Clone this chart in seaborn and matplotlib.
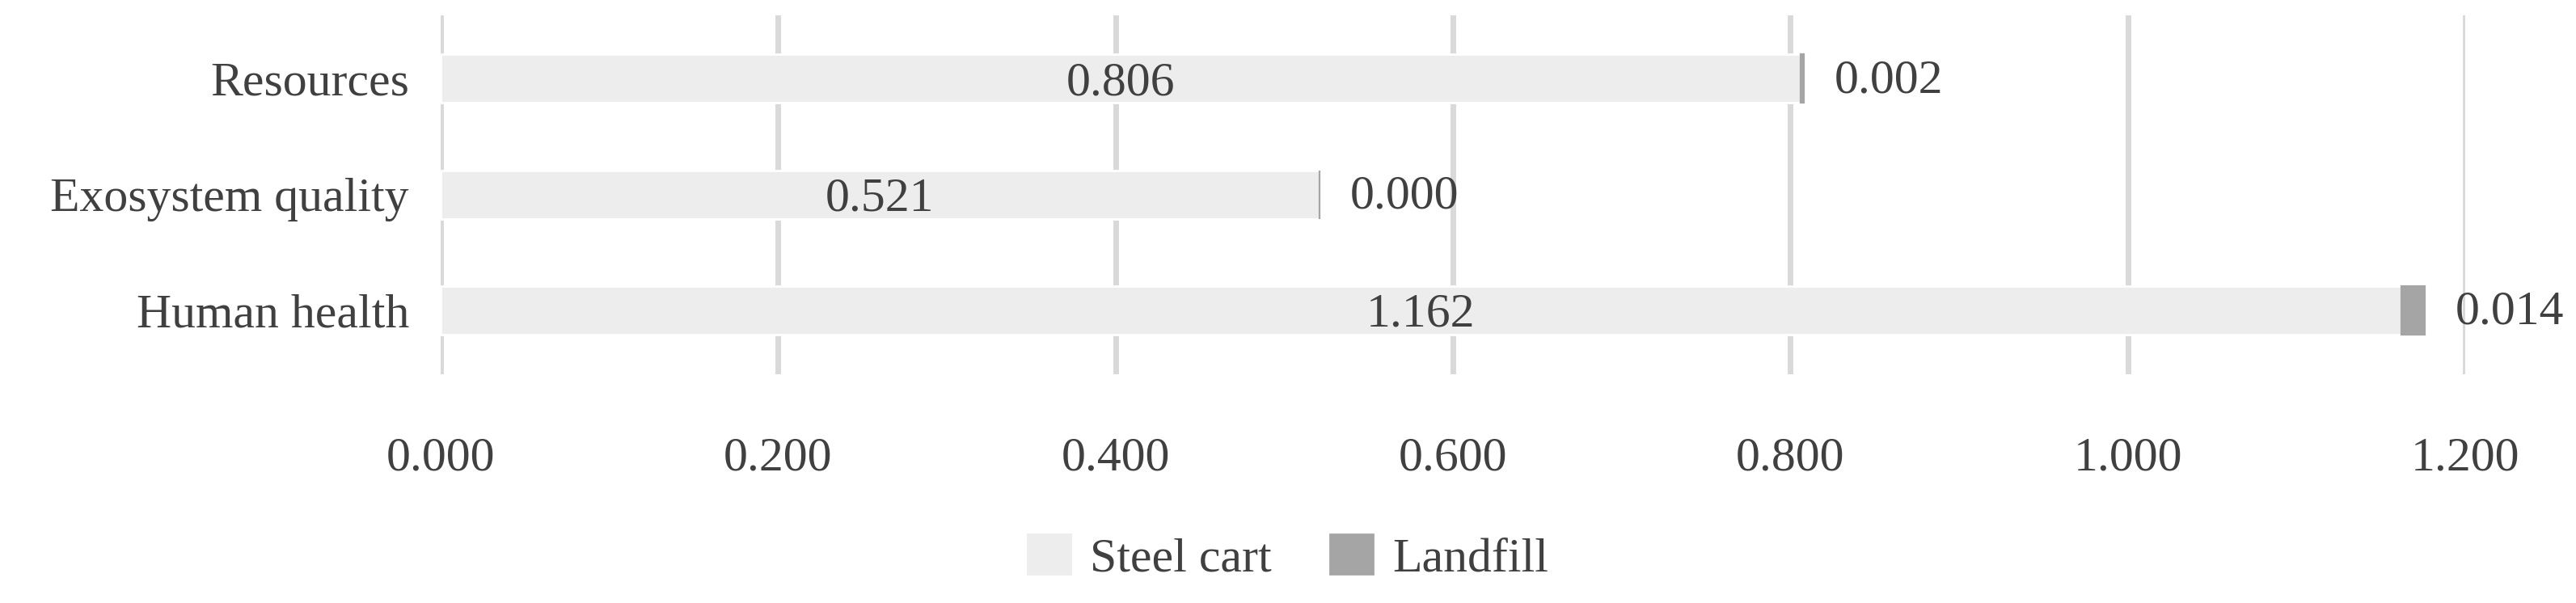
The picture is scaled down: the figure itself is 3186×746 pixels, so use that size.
import matplotlib
matplotlib.use("Agg")
import matplotlib.pyplot as plt
import seaborn as sns
import pandas as pd
from matplotlib.patches import Patch

categories = ["Resources", "Exosystem quality", "Human health"]
steel_cart = [0.806, 0.521, 1.162]
landfill = [0.002, 0.000, 0.014]
ticks = [0.0, 0.2, 0.4, 0.6, 0.8, 1.0, 1.2]

sns.set_theme(style="white")
plt.rcParams['font.family'] = ['Liberation Serif', 'DejaVu Serif']
tc = "#404040"
fs = 21.5

fig = plt.figure(figsize=(15.93, 3.73), dpi=200)
ax = fig.add_axes([0.171, 0.38, 0.786, 0.595])
df = pd.DataFrame({"cat": categories, "steel": steel_cart, "land": landfill})
sns.barplot(data=df, y="cat", x="steel", color="#EDEDED", width=0.42, ax=ax, saturation=1, zorder=2)
ypos = range(len(categories))
ax.barh(list(ypos), landfill, left=steel_cart, height=0.42, color="#A5A5A5",
        edgecolor="#A5A5A5", linewidth=0.8, zorder=2)

for i, (s, l) in enumerate(zip(steel_cart, landfill)):
    ax.text(s / 2, i + 0.04, f"{s:.3f}", ha="center", va="center", fontsize=fs, color=tc, zorder=3)
    ax.text(s + l + 0.018, i + 0.02, f"{l:.3f}", ha="left", va="center", fontsize=fs, color=tc, zorder=3)

ax.set_xlim(0, 1.2)
ax.set_ylim(2.55, -0.55)
ax.set_xticks(ticks)
ax.set_xticklabels([f"{t:.3f}" for t in ticks], fontsize=fs, color=tc)
ax.tick_params(axis="y", labelsize=fs, labelcolor=tc, length=0, pad=14)
ax.tick_params(axis="x", length=0, pad=28)
ax.set_xlabel("")
ax.set_ylabel("")
ax.grid(axis="x", color="#D9D9D9", linewidth=2.5, zorder=0)
ax.set_axisbelow(True)
for sp in ax.spines.values():
    sp.set_visible(False)

fig.legend(handles=[Patch(color="#EDEDED", label="Steel cart"), Patch(color="#A5A5A5", label="Landfill")],
           loc="center", bbox_to_anchor=(0.5, 0.075), ncol=2, frameon=False, fontsize=fs,
           labelcolor=tc, handlelength=0.9, handleheight=0.9, columnspacing=1.2, handletextpad=0.4)
fig.savefig("out.png", dpi=200)
